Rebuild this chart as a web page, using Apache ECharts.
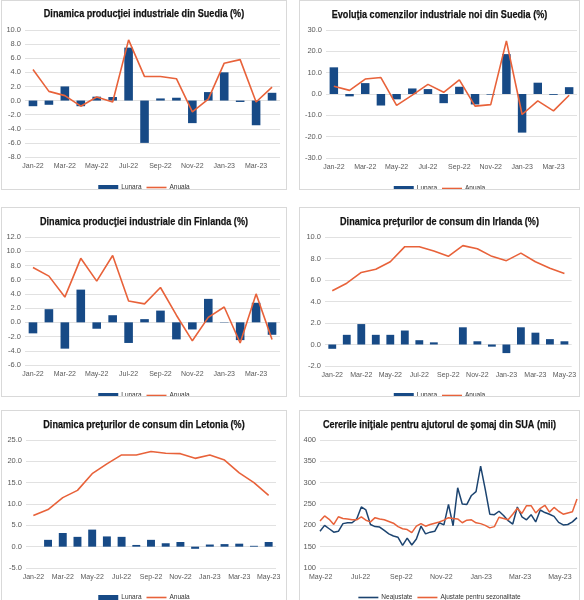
<!DOCTYPE html>
<html><head><meta charset="utf-8">
<script src="https://cdn.jsdelivr.net/npm/echarts@6/dist/echarts.min.js"></script>
<style>
html,body{margin:0;padding:0;background:#fff;}
body{width:584px;height:600px;position:relative;overflow:hidden;}
.p{position:absolute;box-sizing:border-box;border:1px solid #d9d9d9;background:#fff;}
</style></head><body>
<div id="c1" class="p" style="left:1px;top:0px;width:286px;height:190px"></div>
<div id="c2" class="p" style="left:299px;top:0px;width:281px;height:190px"></div>
<div id="c3" class="p" style="left:1px;top:207px;width:286px;height:190px"></div>
<div id="c4" class="p" style="left:299px;top:207px;width:281px;height:190px"></div>
<div id="c5" class="p" style="left:1px;top:410px;width:286px;height:191px"></div>
<div id="c6" class="p" style="left:299px;top:410px;width:281px;height:191px"></div>
<script>
// ---------- DATA ----------
const months16 = ['Jan-22','Feb-22','Mar-22','Apr-22','May-22','Jun-22','Jul-22','Aug-22','Sep-22','Oct-22','Nov-22','Dec-22','Jan-23','Feb-23','Mar-23','Apr-23'];
const months17 = months16.concat(['May-23']);

const seProdLunara = [-0.8,-0.6,2.0,-0.8,0.55,0.5,7.5,-6.0,0.3,0.4,-3.2,1.2,4.0,-0.2,-3.5,1.1];
const seProdAnuala = [4.4,1.3,0.7,-0.8,0.5,-0.2,8.6,3.4,3.4,3.1,-1.6,0.2,5.3,5.8,-0.2,1.9];

const seComLunara = [12.5,-1.1,5.1,-5.4,-2.5,2.6,2.3,-4.3,3.4,-4.9,-0.3,18.7,-18.1,5.3,-0.4,3.2];
const seComAnuala = [3.6,1.7,7.0,7.7,-5.3,-0.5,4.5,0.8,6.6,-5.7,-5.0,24.9,-9.6,-3.2,-7.9,-0.6];

const fiProdLunara = [-1.55,1.85,-3.7,4.6,-0.9,1.0,-2.9,0.45,1.65,-2.4,-1.0,3.3,0.05,-2.5,2.75,-1.75];
const fiProdAnuala = [7.7,6.5,3.55,9.0,5.8,9.4,3.0,2.6,4.9,1.0,-2.6,0.7,2.15,-2.9,4.0,-2.4];

const iePretLunara = [-0.4,0.9,1.9,0.9,0.9,1.3,0.4,0.2,0.0,1.6,0.3,-0.2,-0.8,1.6,1.1,0.5,0.3];
const iePretAnuala = [5.0,5.7,6.7,7.0,7.7,9.1,9.1,8.7,8.2,9.2,8.9,8.2,7.8,8.5,7.7,7.1,6.6];

const lvPretLunara = [0.0,1.6,3.2,2.3,4.0,2.4,2.3,0.4,1.6,0.8,1.1,-0.5,0.5,0.6,0.7,0.2,1.1];
const lvPretAnuala = [7.3,8.7,11.5,13.2,17.1,19.4,21.5,21.5,22.3,21.9,21.8,20.7,21.5,20.3,17.3,15.0,12.0];

// US initial jobless claims, weekly (thousands), first week ending 2022-04-30
const usFirstWeek = [2022, 3, 30];
const usNeajustate = [186,200,192,184,186,204,206,206,215,243,236,202,197,196,188,180,175,172,153,170,154,168,198,180,184,186,206,201,249,199,288,250,249,270,279,339,285,226,225,233,223,211,203,243,220,213,225,208,236,230,226,221,207,201,202,208,218];
const usAjustate = [210,222,214,202,220,216,215,213,213,220,212,208,218,215,213,209,205,197,192,190,183,198,204,198,202,205,208,212,218,216,215,206,212,213,206,204,200,194,197,219,216,213,226,240,228,246,246,229,240,247,231,242,233,226,229,232,262];
const usTickMonths = [[2022,4],[2022,6],[2022,8],[2022,10],[2023,0],[2023,2],[2023,4]];
const monthNames = ['Jan','Feb','Mar','Apr','May','Jun','Jul','Aug','Sep','Oct','Nov','Dec'];

// ---------- STYLE ----------
const BLUE = '#174a86';
const ORANGE = '#e8623a';
const LBL = '#595959';
const GRIDC = '#d9d9d9';
const FONT = "'Liberation Sans',Arial,sans-serif";
const LINE_ICON = 'path://M0,0H20V1.6H0Z';

function titleGraphic(ch, text, cy) {
  return [{ type: 'text', x: ch.getWidth() / 2, y: cy, scaleX: 0.79, scaleY: 1, originX: 0, originY: 0,
    style: { text: text, textAlign: 'center', textVerticalAlign: 'middle',
      font: "bold 11.5px 'Liberation Sans', Arial, sans-serif", fill: '#111',
      stroke: '#111', lineWidth: 0.25 } }];
}
function legendOpt(items, cy) {
  return { data: items, left: 'center', top: cy - 5, itemWidth: 20, itemHeight: 5, itemGap: 5,
    textStyle: { fontFamily: FONT, fontSize: 6.5, color: '#333', padding: [0,0,0,-2] } };
}
function yAxisOpt(min, max, interval, dec) {
  return { type: 'value', min: min, max: max, interval: interval,
    axisLabel: { fontFamily: FONT, fontSize: 7.5, color: LBL, margin: 4,
      formatter: v => v.toFixed(dec) },
    axisLine: { show: false }, axisTick: { show: false },
    splitLine: { lineStyle: { color: GRIDC, width: 0.8 } } };
}

function barLine(el, cfg) {
  const ch = echarts.init(document.getElementById(el), null, { renderer: 'canvas' });
  ch.setOption({
    animation: false,
    graphic: titleGraphic(ch, cfg.title, cfg.titleCy),
    legend: legendOpt([{ name: 'Lunara', icon: 'rect' }, { name: 'Anuala', icon: LINE_ICON }], cfg.legendCy),
    grid: cfg.grid,
    xAxis: { type: 'category', data: cfg.cats, boundaryGap: true,
      axisLabel: { interval: 1, fontFamily: FONT, fontSize: 7, color: LBL, margin: 6 },
      axisLine: { show: false, onZero: false }, axisTick: { show: false } },
    yAxis: yAxisOpt(cfg.min, cfg.max, cfg.interval, 1),
    series: [
      { name: 'Lunara', type: 'bar', data: cfg.bar, barWidth: '54%', itemStyle: { color: BLUE } },
      { name: 'Anuala', type: 'line', data: cfg.line, symbol: 'none', z: 5,
        lineStyle: { color: ORANGE, width: 1.6 }, itemStyle: { color: ORANGE } }
    ]
  });
}

barLine('c1', { title: 'Dinamica producţiei industriale din Suedia (%)', titleCy: 13, legendCy: 183,
  grid: { left: 23, right: 6, top: 29, bottom: 32 }, cats: months16,
  bar: seProdLunara, line: seProdAnuala, min: -8, max: 10, interval: 2 });
barLine('c2', { title: 'Evoluţia comenzilor industriale noi din Suedia (%)', titleCy: 14, legendCy: 184,
  grid: { left: 26, right: 2, top: 29, bottom: 31 }, cats: months16,
  bar: seComLunara, line: seComAnuala, min: -30, max: 30, interval: 10 });
barLine('c3', { title: 'Dinamica producţiei industriale din Finlanda (%)', titleCy: 14, legendCy: 184,
  grid: { left: 23, right: 6, top: 29, bottom: 31 }, cats: months16,
  bar: fiProdLunara, line: fiProdAnuala, min: -6, max: 12, interval: 2 });
barLine('c4', { title: 'Dinamica preţurilor de consum din Irlanda (%)', titleCy: 14, legendCy: 184,
  grid: { left: 25, right: 4, top: 29, bottom: 30 }, cats: months17,
  bar: iePretLunara, line: iePretAnuala, min: -2, max: 10, interval: 2 });
barLine('c5', { title: 'Dinamica preţurilor de consum din Letonia (%)', titleCy: 14, legendCy: 183,
  grid: { left: 24, right: 10, top: 29, bottom: 32 }, cats: months17,
  bar: lvPretLunara, line: lvPretAnuala, min: -5, max: 25, interval: 5 });

// US claims: value x-axis over timestamps, labels at month starts
(function () {
  const ch = echarts.init(document.getElementById('c6'), null, { renderer: 'canvas' });
  const dates = usNeajustate.map((_, i) => new Date(usFirstWeek[0], usFirstWeek[1], usFirstWeek[2] + 7 * i).getTime());
  const ticks = usTickMonths.map(m => new Date(m[0], m[1], 1).getTime());
  const fmt = v => { const d = new Date(v); return monthNames[d.getMonth()] + '-' + String(d.getFullYear() % 100).padStart(2, '0'); };
  ch.setOption({
    animation: false,
    graphic: titleGraphic(ch, 'Cererile iniţiale pentru ajutorul de şomaj din SUA (mii)', 14),
    legend: legendOpt([{ name: 'Neajustate', icon: LINE_ICON }, { name: 'Ajustate pentru sezonalitate', icon: LINE_ICON }], 183),
    grid: { left: 20, right: 2, top: 29, bottom: 32 },
    xAxis: { type: 'value', min: dates[0], max: dates[dates.length - 1], scale: true,
      axisLabel: { customValues: ticks, formatter: fmt, fontFamily: FONT, fontSize: 7, color: LBL, margin: 6, hideOverlap: false, showMinLabel: true, showMaxLabel: true },
      axisTick: { show: false }, axisLine: { show: false, onZero: false }, splitLine: { show: false } },
    yAxis: yAxisOpt(100, 400, 50, 0),
    series: [
      { name: 'Neajustate', type: 'line', symbol: 'none', data: dates.map((d, i) => [d, usNeajustate[i]]),
        lineStyle: { color: '#1c4470', width: 1.5 }, itemStyle: { color: '#1c4470' }, z: 3 },
      { name: 'Ajustate pentru sezonalitate', type: 'line', symbol: 'none', data: dates.map((d, i) => [d, usAjustate[i]]),
        lineStyle: { color: ORANGE, width: 1.5 }, itemStyle: { color: ORANGE }, z: 4 }
    ]
  });
})();
</script>
</body></html>
